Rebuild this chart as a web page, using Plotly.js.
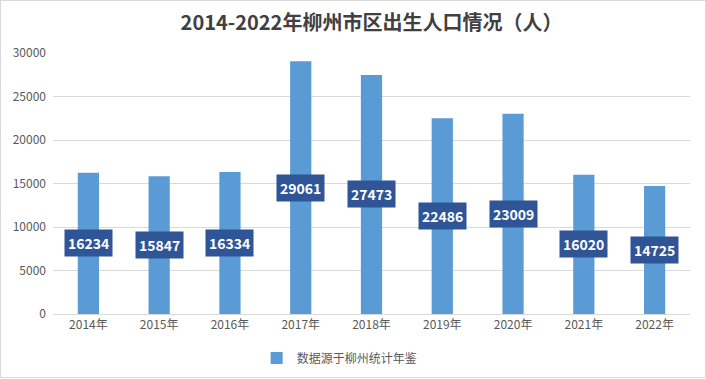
<!DOCTYPE html>
<html><head><meta charset="utf-8">
<script src="https://cdn.plot.ly/plotly-3.0.1.min.js"></script>
<style>
html,body{margin:0;padding:0;background:#fff;}
#wrap{position:relative;width:706px;height:379px;}
#chart{width:706px;height:379px;}
#frame{position:absolute;left:0;top:0;width:704px;height:376px;border:1px solid #D9D9D9;pointer-events:none;}
</style></head>
<body><div id="wrap"><div id="chart"></div><div id="frame"></div></div>
<script>
const categories = ["2014年","2015年","2016年","2017年","2018年","2019年","2020年","2021年","2022年"];
const births = [16234,15847,16334,29061,27473,22486,23009,16020,14725];
const seriesName = "数据源于柳州统计年鉴";
const titleText = "2014-2022年柳州市区出生人口情况（人）";

const font = '"Noto Sans CJK SC", "Microsoft YaHei", sans-serif';

const trace = {
  type: 'bar', x: categories, y: births, name: seriesName,
  marker: {color: '#5B9BD5'}, hoverinfo: 'x+y', showlegend: true
};

const annotations = categories.map((c, i) => ({
  x: c, y: births[i] / 2, xref: 'x', yref: 'y',
  text: '<b>' + births[i] + '</b>', showarrow: false,
  bgcolor: '#2F5597', borderpad: 3,
  font: {family: font, size: 14, color: '#FFFFFF'}
}));

const layout = {
  width: 706, height: 379,
  margin: {l: 53, r: 16, t: 53, b: 65, autoexpand: false},
  paper_bgcolor: '#FFFFFF', plot_bgcolor: '#FFFFFF',
  font: {family: font, color: '#595959', size: 12},
  title: {text: '<b>' + titleText + '</b>', x: 0.5, xanchor: 'center', xref: 'paper',
          y: 1 - 23/379, yanchor: 'middle', yref: 'container',
          font: {family: font, size: 20, color: '#404040'}},
  bargap: 0.7,
  xaxis: {type: 'category', showline: true, linecolor: '#D9D9D9', linewidth: 1,
          ticks: '', tickfont: {size: 12, color: '#595959'}, showgrid: false, zeroline: false},
  yaxis: {range: [0, 30000], dtick: 5000, tick0: 0, showgrid: true, gridcolor: '#D9D9D9',
          gridwidth: 1, zeroline: false, showline: false, ticks: '', tickformat: 'd',
          ticklabelstandoff: 6, tickfont: {size: 12, color: '#595959'}},
  legend: {orientation: 'h', x: 0.45, xanchor: 'center', y: -0.169, yanchor: 'middle',
           font: {size: 12, color: '#595959'}},
  annotations: annotations
};

Plotly.newPlot('chart', [trace], layout, {displayModeBar: false, staticPlot: true});
</script></body></html>
